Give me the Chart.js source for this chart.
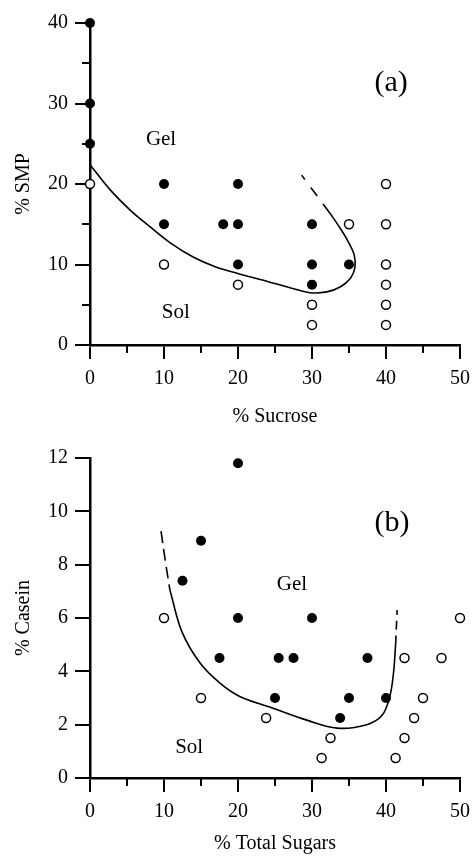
<!DOCTYPE html>
<html><head><meta charset="utf-8">
<script src="https://cdn.jsdelivr.net/npm/chart.js@4"></script>
<style>
html,body{margin:0;padding:0;background:#fff;}
canvas{display:block;}
</style></head><body>
<canvas id="ca" width="473" height="430"></canvas>
<canvas id="cb" width="473" height="426"></canvas>
<script>
// ---------- Data: panel (a) ----------
const aGelX = [0, 0, 0, 10, 10, 18, 20, 20, 20, 30, 30, 30, 35];
const aGelY = [40, 30, 25, 20, 15, 15, 20, 15, 10, 15, 10, 7.5, 10];
const aSolX = [0, 10, 20, 30, 30, 35, 40, 40, 40, 40, 40, 40];
const aSolY = [20, 10, 7.5, 5, 2.5, 15, 20, 15, 10, 7.5, 5, 2.5];
const aCurveX = [0, 2.7, 5.5, 8.1, 11, 14, 17, 20.3, 24, 27.5, 29.7, 32, 33.8, 35.2, 35.8, 35.7, 34.8, 33.6, 32.4];
const aCurveY = [22.4, 19.3, 16.7, 14.7, 12.6, 10.9, 9.7, 8.8, 7.9, 7.0, 6.5, 6.6, 7.2, 8.3, 9.6, 11.2, 13, 14.8, 16.4];
const aDashX = [32.4, 28.6];
const aDashY = [16.4, 21.1];
const aXTicks = [0, 10, 20, 30, 40, 50];
const aYTicks = [0, 10, 20, 30, 40];
const aTexts = ['Gel', 'Sol', '(a)'];

// ---------- Data: panel (b) ----------
const bGelX = [12.5, 15, 17.5, 20, 20, 25, 25.5, 27.5, 30, 33.8, 35, 37.5, 40];
const bGelY = [7.4, 8.9, 4.5, 11.8, 6, 3, 4.5, 4.5, 6, 2.25, 3, 4.5, 3];
const bSolX = [10, 15, 23.8, 31.3, 32.5, 41.3, 42.5, 42.5, 43.8, 45, 47.5, 50];
const bSolY = [6, 3, 2.25, 0.75, 1.5, 0.75, 1.5, 4.5, 2.25, 3, 4.5, 6];
const bCurveX = [10.8, 12.4, 14.9, 17.6, 20.3, 24.3, 29.3, 33.4, 37.4, 39.5, 40.5, 41, 41.3];
const bCurveY = [7.05, 5.5, 4.3, 3.55, 3.05, 2.66, 2.17, 1.87, 2.0, 2.36, 3.04, 3.9, 5.0];
const bDashLX = [9.6, 10.2, 10.8];
const bDashLY = [9.26, 8.1, 7.05];
const bDashRX = [41.3, 41.5];
const bDashRY = [5.0, 6.3];
const bXTicks = [0, 10, 20, 30, 40, 50];
const bYTicks = [0, 2, 4, 6, 8, 10, 12];
const bTexts = ['Gel', 'Sol', '(b)'];

const F = 'Liberation Serif, Times New Roman, serif';
const zip = (xs, ys) => xs.map((x, i) => ({x: x, y: ys[i]}));

const extras = {
  id: 'extras',
  afterDraw(chart, args, opts) {
    const ctx = chart.ctx, xs = chart.scales.x, ys = chart.scales.y;
    ctx.save();
    ctx.strokeStyle = '#000';
    ctx.lineWidth = 2;
    (opts.minorX || []).forEach(v => {
      const p = Math.round(xs.getPixelForValue(v));
      ctx.beginPath(); ctx.moveTo(p, ys.bottom); ctx.lineTo(p, ys.bottom + 8); ctx.stroke();
    });
    (opts.minorY || []).forEach(v => {
      const p = Math.round(ys.getPixelForValue(v));
      ctx.beginPath(); ctx.moveTo(xs.left, p); ctx.lineTo(xs.left - 8, p); ctx.stroke();
    });
    ctx.fillStyle = '#000';
    ctx.textAlign = 'center';
    ctx.textBaseline = 'alphabetic';
    (opts.labels || []).forEach(l => {
      ctx.font = l.size + 'px ' + F;
      ctx.fillText(l.text, xs.getPixelForValue(l.x), ys.getPixelForValue(l.y));
    });
    ctx.restore();
  }
};

function scales(xTicks, yTicks, xTitle, yTitle, xHeight) {
  const tickFont = {family: F, size: 20};
  const grid = {display: true, drawOnChartArea: false, drawTicks: true, color: '#000', lineWidth: 2};
  return {
    x: {
      type: 'linear', min: xTicks[0], max: xTicks[xTicks.length - 1],
      afterBuildTicks: s => { s.ticks = xTicks.map(v => ({value: v})); },
      ticks: {color: '#000', font: tickFont, padding: 8, maxRotation: 0},
      grid: Object.assign({}, grid, {tickLength: 14}),
      border: {display: true, color: '#000', width: 2.5},
      title: {display: true, text: xTitle, color: '#000', font: {family: F, size: 20}, padding: 0},
      afterFit: s => { s.height = xHeight; s.paddingLeft = 0; s.paddingRight = 0; }
    },
    y: {
      type: 'linear', min: yTicks[0], max: yTicks[yTicks.length - 1],
      afterBuildTicks: s => { s.ticks = yTicks.map(v => ({value: v})); },
      ticks: {color: '#000', font: tickFont, padding: 7},
      grid: Object.assign({}, grid, {tickLength: 15}),
      border: {display: true, color: '#000', width: 2.5},
      title: {display: true, text: yTitle, color: '#000', font: {family: F, size: 20}, padding: 0},
      afterFit: s => { s.width = 78; s.paddingTop = 0; s.paddingBottom = 0; }
    }
  };
}

function pts(data, filled) {
  return {
    data: data, showLine: false, clip: false,
    pointRadius: filled ? 5 : 4.5, pointHoverRadius: filled ? 5 : 4.5,
    pointBackgroundColor: filled ? '#000' : '#fff',
    pointBorderColor: '#000', pointBorderWidth: filled ? 0 : 1.5
  };
}
function line(data, dash) {
  return {
    data: data, showLine: true, clip: false, pointRadius: 0, fill: false,
    borderColor: '#000', borderWidth: 1.6, tension: 0.35,
    borderDash: dash || []
  };
}

const common = (pad) => ({
  responsive: false, animation: false, events: [],
  layout: {padding: pad},
  plugins: {legend: {display: false}, tooltip: {enabled: false}}
});

// Panel (a)
const optA = common({top: 23, right: 13, left: 12, bottom: 1});
optA.scales = scales(aXTicks, aYTicks, '% Sucrose', '% SMP', 84);
optA.plugins.extras = {
  minorX: [5, 15, 25, 35, 45], minorY: [5, 15, 25, 35],
  labels: [
    {text: aTexts[0], x: 9.6, y: 24.8, size: 21},
    {text: aTexts[1], x: 11.6, y: 3.35, size: 21},
    {text: aTexts[2], x: 40.7, y: 31.55, size: 30}
  ]
};
new Chart(document.getElementById('ca'), {
  type: 'scatter',
  data: {datasets: [
    pts(zip(aGelX, aGelY), true),
    pts(zip(aSolX, aSolY), false),
    line(zip(aCurveX, aCurveY)),
    line(zip(aDashX, aDashY), [11, 10])
  ]},
  options: optA,
  plugins: [extras]
});

// Panel (b)
const optB = common({top: 28, right: 13, left: 12, bottom: 0});
optB.scales = scales(bXTicks, bYTicks, '% Total Sugars', '% Casein', 78);
optB.plugins.extras = {
  minorX: [5, 15, 25, 35, 45], minorY: [],
  labels: [
    {text: bTexts[0], x: 27.3, y: 7.05, size: 21},
    {text: bTexts[1], x: 13.4, y: 0.94, size: 21},
    {text: bTexts[2], x: 40.8, y: 9.26, size: 30}
  ]
};
new Chart(document.getElementById('cb'), {
  type: 'scatter',
  data: {datasets: [
    pts(zip(bGelX, bGelY), true),
    pts(zip(bSolX, bSolY), false),
    line(zip(bCurveX, bCurveY)),
    line(zip(bDashLX, bDashLY), [12, 6]),
    line(zip(bDashRX, bDashRY), [9, 6])
  ]},
  options: optB,
  plugins: [extras]
});
</script>
</body></html>
